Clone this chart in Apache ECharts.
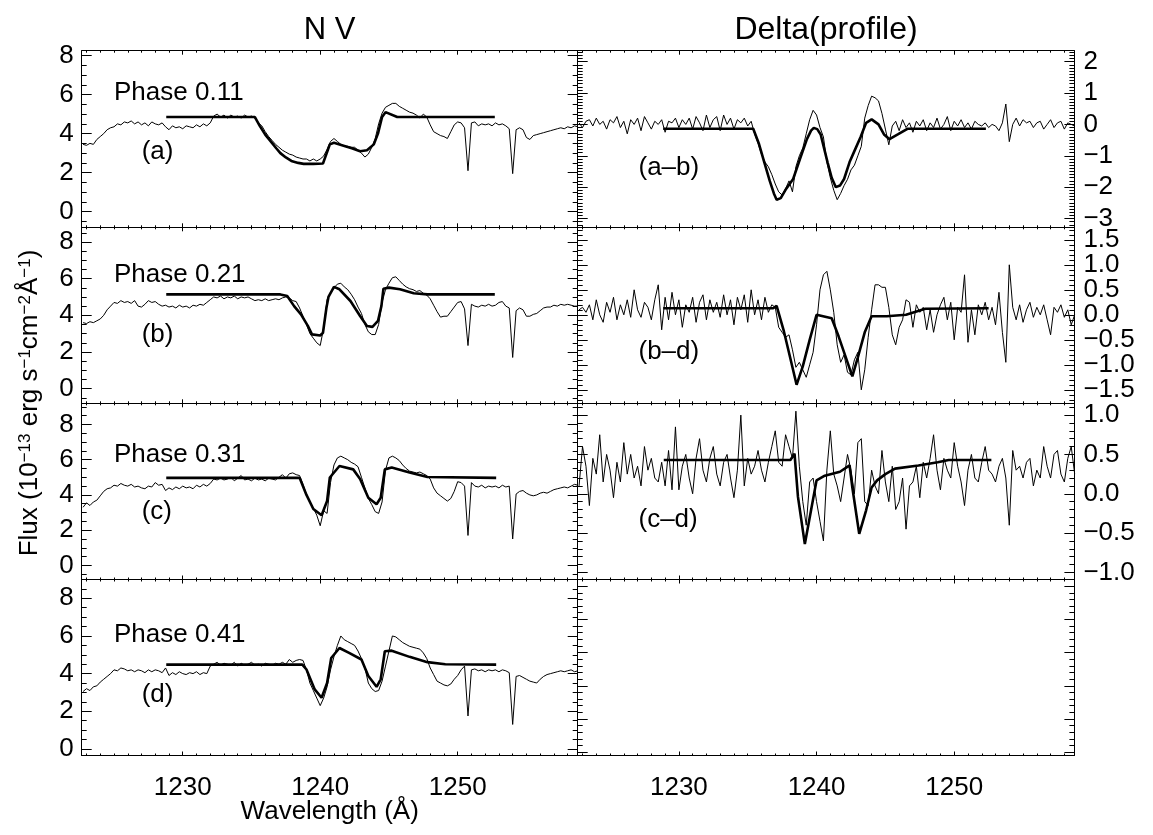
<!DOCTYPE html>
<html>
<head>
<meta charset="utf-8">
<title>N V profiles</title>
<script src="https://cdn.jsdelivr.net/npm/echarts@6/dist/echarts.min.js"></script>
<style>
  html, body { margin: 0; padding: 0; background: #fff; }
  #chart { width: 1153px; height: 835px; }
</style>
</head>
<body>
<div id="chart"></div>
<script>
// wavelength grid of the observed spectra (Angstrom)
const WAVE_START = 1222.75;
const WAVE_STEP = 0.25;

// observed N V spectra, one value per grid step (10^-13 erg/s/cm2/A)
const specA = [
  3.45,3.4,3.5,3.45,3.7,3.85,4.0,4.2,
  4.3,4.35,4.5,4.45,4.6,4.55,4.65,4.5,
  4.6,4.45,4.55,4.4,4.6,4.5,4.45,4.55,
  4.35,4.2,4.4,4.3,4.35,4.25,4.4,4.35,
  4.3,4.45,4.35,4.5,4.4,4.55,4.9,5.0,
  4.85,4.95,4.8,4.95,4.85,4.9,4.8,4.95,
  4.85,4.9,4.8,4.55,4.4,4.1,3.85,3.65,
  3.45,3.3,3.15,3.05,2.95,2.9,2.8,2.75,
  2.7,2.7,2.6,2.7,2.6,2.7,2.85,3.2,
  3.6,3.75,3.6,3.45,3.35,3.35,3.3,3.3,
  3.15,3.0,2.8,2.95,3.3,3.75,4.5,5.05,
  5.35,5.45,5.55,5.55,5.4,5.3,5.2,5.1,
  5.05,4.95,4.8,5.0,4.85,4.45,4.1,4.0,
  3.9,3.85,3.75,4.1,4.45,4.6,4.55,4.3,
  2.1,4.55,4.6,4.4,4.5,4.45,4.5,4.4,
  4.55,4.45,4.5,4.4,4.25,1.95,4.2,4.3,
  4.2,3.8,3.7,3.9,3.95,4.0,4.05,4.1,
  4.15,4.2,4.25,4.3,4.25,4.35,4.3,4.4,
  4.35
];
const specB = [
  3.6,3.55,3.65,3.6,3.7,3.8,4.0,4.3,
  4.5,4.7,4.65,4.8,4.7,4.75,4.65,4.8,
  4.5,4.45,4.6,4.8,4.7,4.75,4.6,4.5,
  4.55,4.45,4.5,4.4,4.55,4.45,4.5,4.4,
  4.55,4.5,4.6,4.55,4.7,4.85,5.0,4.95,
  5.05,4.9,5.0,4.95,5.05,4.9,5.0,4.95,
  5.0,4.9,4.8,4.85,4.8,4.9,4.8,4.85,
  4.9,4.85,4.95,5.0,4.95,4.8,4.75,4.4,
  3.95,3.5,3.0,2.75,2.5,2.35,3.3,4.85,
  5.25,5.5,5.7,5.75,5.55,5.4,5.15,4.85,
  4.45,4.1,3.5,3.1,2.95,2.95,3.5,4.7,
  5.4,5.75,6.05,6.1,5.9,5.7,5.55,5.45,
  5.4,5.3,5.35,5.2,5.1,4.9,4.55,4.2,
  3.9,3.95,3.95,4.2,4.45,4.7,4.75,4.35,
  2.35,4.6,4.5,4.45,4.55,4.5,4.6,4.5,
  4.55,4.7,4.75,4.5,4.4,1.7,4.25,4.4,
  4.3,3.95,3.95,4.05,4.1,4.25,4.4,4.45,
  4.45,4.55,4.5,4.6,4.55,4.6,4.55,4.5,
  4.5
];
const specC = [
  3.3,3.55,3.4,3.6,3.7,3.95,4.2,4.35,
  4.4,4.55,4.5,4.65,4.55,4.5,4.6,4.45,
  4.5,4.4,4.35,4.5,4.45,4.7,4.55,4.6,
  4.25,4.4,4.3,4.45,4.35,4.5,4.4,4.45,
  4.35,4.55,4.45,4.6,4.5,4.65,4.9,4.85,
  4.95,4.85,4.9,5.0,4.8,4.95,5.1,4.85,
  4.9,4.8,4.95,4.85,4.9,4.8,4.95,4.9,
  4.85,5.0,5.15,4.95,5.2,5.25,5.15,5.1,
  4.6,4.0,3.6,3.25,2.85,2.25,3.1,2.95,
  4.7,5.7,6.1,6.2,6.1,6.0,5.85,5.75,
  5.6,5.0,4.4,3.8,3.45,3.05,2.95,3.6,
  5.4,6.1,6.2,6.1,5.95,5.7,5.5,5.35,
  5.3,5.25,5.3,5.2,5.1,4.9,4.4,4.1,
  3.95,3.8,3.65,3.8,4.2,4.75,4.7,4.5,
  1.7,4.7,4.5,4.45,4.55,4.4,4.5,4.45,
  4.5,4.4,4.55,4.45,4.5,1.5,4.05,4.2,
  4.25,4.1,4.0,3.95,4.0,4.1,4.15,4.1,
  4.2,4.3,4.35,4.4,4.45,4.4,4.5,4.6,
  4.55
];
const specD = [
  3.05,3.2,3.1,3.3,3.35,3.55,3.7,3.85,
  4.0,4.2,4.15,4.3,4.25,4.15,4.2,4.1,
  4.2,4.15,4.05,4.2,4.1,4.2,4.15,4.05,
  4.3,3.9,4.05,3.95,4.1,4.0,3.95,4.05,
  4.0,4.1,3.95,4.05,4.0,4.4,4.5,4.6,
  4.45,4.55,4.5,4.45,4.6,4.4,4.55,4.45,
  4.5,4.6,4.45,4.5,4.4,4.55,4.5,4.45,
  4.55,4.5,4.6,4.5,4.75,4.6,4.7,4.75,
  4.7,4.2,3.5,3.1,2.7,2.3,2.7,3.3,
  4.2,4.9,5.5,6.0,5.8,5.7,5.6,5.5,
  5.2,4.8,4.3,3.5,3.2,3.05,3.1,3.6,
  4.4,5.2,6.0,5.95,5.8,5.65,5.55,5.45,
  5.4,5.35,5.3,5.1,4.8,4.3,3.95,3.6,
  3.5,3.4,3.35,3.45,3.7,3.9,4.2,4.4,
  1.75,4.2,4.25,4.15,4.2,4.1,4.2,4.15,
  4.2,4.1,4.2,4.15,4.05,1.3,3.85,3.9,
  3.8,3.7,3.6,3.55,3.5,3.7,3.85,3.95,
  4.0,4.05,4.1,4.15,4.1,4.15,4.2,4.1,
  4.15
];

// observed profile differences, same grid
const diffAB = [
  0.05,-0.1,0.1,0.15,-0.05,0.2,0.0,0.1,
  -0.15,0.15,0.05,0.25,-0.1,0.1,-0.3,0.15,
  0.0,0.2,-0.2,0.25,0.05,-0.15,0.1,0.0,
  0.15,-0.25,0.1,0.05,0.2,-0.1,0.15,0.0,
  0.2,-0.15,0.25,0.05,-0.2,0.3,-0.1,0.15,
  0.25,-0.2,0.3,0.0,0.2,-0.15,0.15,0.05,
  0.2,-0.05,0.1,-0.3,-0.6,-0.95,-1.2,-1.35,
  -1.6,-1.9,-2.15,-2.25,-2.05,-1.8,-2.15,-1.35,
  -1.0,-0.75,-0.3,0.15,0.45,0.3,-0.1,-0.4,
  -1.2,-1.7,-2.1,-2.4,-2.2,-1.95,-1.75,-1.45,
  -1.3,-1.0,-0.7,0.2,0.6,0.9,0.85,0.75,
  0.35,-0.15,-0.65,-0.05,0.1,-0.2,0.15,-0.1,
  0.05,-0.25,0.1,-0.05,0.15,-0.2,0.05,-0.1,
  0.2,-0.15,0.0,0.25,-0.2,0.1,-0.05,0.15,
  -0.1,0.05,-0.15,0.1,0.0,-0.05,0.05,-0.1,
  0.0,-0.05,-0.2,0.05,0.65,-0.55,0.0,0.2,
  -0.05,0.15,0.05,0.1,-0.1,0.05,0.1,-0.15,
  0.0,0.15,-0.1,0.05,0.1,-0.15,0.05,0.0,
  -0.05
];
const diffBD = [
  0.1,0.15,0.05,0.2,-0.1,0.3,0.0,-0.15,
  0.25,0.05,0.35,-0.1,0.2,0.0,0.3,-0.05,
  0.5,0.1,-0.05,0.25,0.15,-0.1,0.3,0.6,
  -0.3,0.35,-0.1,0.45,0.0,0.3,-0.25,0.2,
  0.05,0.35,-0.15,0.25,0.4,-0.1,0.3,0.05,
  0.25,-0.05,0.4,0.0,0.3,-0.2,0.35,0.1,
  0.4,-0.15,0.5,0.0,0.3,-0.1,0.35,0.05,
  0.2,0.15,-0.25,-0.35,-0.45,-0.4,-0.7,-1.05,
  -0.95,-1.1,-1.25,-1.0,-0.75,-0.2,0.5,0.8,
  0.87,0.5,0.05,-0.6,-0.95,-0.8,-1.15,-1.2,
  -0.9,-0.75,-1.5,-1.1,-0.45,0.1,0.6,0.6,
  0.55,0.55,0.15,-0.4,-0.6,-0.25,-0.1,0.3,
  0.25,-0.25,0.2,0.05,0.15,-0.3,0.1,-0.35,
  0.0,0.2,0.35,-0.1,0.25,-0.5,0.15,0.05,
  0.8,-0.55,0.1,-0.4,0.2,0.0,0.25,-0.1,
  0.15,-0.2,0.45,-0.35,-0.95,1.0,0.15,-0.1,
  0.2,-0.15,0.1,0.25,-0.05,0.15,0.0,0.2,
  -0.1,-0.4,0.15,0.05,0.2,-0.05,0.1,-0.2,
  0.0
];
const diffCD = [
  0.1,0.6,0.35,-0.15,0.45,0.25,0.75,0.15,
  0.5,0.3,-0.05,0.4,0.15,0.65,0.25,0.5,
  0.2,0.35,0.1,0.6,0.3,0.45,0.2,0.15,
  0.4,0.1,0.55,0.05,0.85,0.05,0.35,0.5,
  0.2,0.0,0.45,0.7,0.3,0.15,0.45,0.6,
  0.25,0.1,0.4,0.5,0.2,-0.05,0.3,1.0,
  0.1,0.45,0.25,0.35,0.55,0.3,0.15,0.4,
  0.6,0.8,0.4,0.35,0.75,0.6,0.45,1.05,
  0.35,-0.1,-0.4,0.15,0.2,-0.1,-0.35,-0.6,
  0.3,0.8,0.25,0.1,-0.1,0.2,0.5,0.3,
  0.0,0.65,0.7,-0.1,-0.15,0.3,0.1,0.0,
  0.55,0.15,-0.1,0.35,-0.2,-0.1,0.2,-0.45,
  0.1,0.15,0.35,-0.05,0.4,0.2,0.45,0.75,
  0.3,0.05,0.45,0.3,0.2,0.65,0.35,0.15,
  -0.15,0.3,0.5,0.2,0.15,0.4,0.6,0.3,
  0.25,0.15,0.35,0.45,0.2,-0.4,0.55,0.3,
  0.35,0.2,0.4,0.45,0.1,0.3,0.2,0.6,
  0.35,0.2,0.5,0.55,0.25,0.15,0.45,0.6,
  0.25
];

// model profiles: [wavelength, value]
const modelA = [[1228.8,4.85],[1235.25,4.85],[1235.6,4.4],[1236.0,3.95],[1236.4,3.6],[1236.8,3.25],[1237.1,3.0],[1237.5,2.78],[1237.9,2.6],[1238.4,2.5],[1238.8,2.45],[1239.5,2.45],[1240.2,2.47],[1240.5,3.05],[1240.7,3.45],[1241.0,3.53],[1241.7,3.38],[1242.3,3.25],[1242.9,3.1],[1243.4,3.15],[1243.9,3.45],[1244.2,4.0],[1244.5,4.85],[1244.75,5.1],[1245.6,4.85],[1252.7,4.85]];
const modelB = [[1228.8,5.14],[1237.1,5.14],[1237.6,5.05],[1238.1,4.5],[1238.6,4.05],[1239.1,3.42],[1239.4,2.96],[1240.0,2.9],[1240.2,3.05],[1240.45,4.4],[1240.6,5.0],[1241.0,5.55],[1241.1,5.6],[1241.4,5.42],[1242.2,4.78],[1242.9,3.96],[1243.4,3.42],[1243.8,3.37],[1244.2,3.69],[1244.45,4.5],[1244.6,5.45],[1245.0,5.51],[1245.8,5.42],[1246.8,5.2],[1247.8,5.14],[1252.7,5.14]];
const modelC = [[1228.8,4.97],[1238.5,4.97],[1239.0,4.0],[1239.5,3.2],[1240.1,2.85],[1240.5,3.66],[1240.7,4.99],[1241.4,5.64],[1242.4,5.45],[1242.9,4.9],[1243.5,3.84],[1244.1,3.47],[1244.4,3.84],[1244.7,5.45],[1245.2,5.55],[1246.5,5.27],[1247.8,5.02],[1252.8,4.97]];
const modelD = [[1228.8,4.48],[1238.7,4.48],[1239.0,4.22],[1239.6,3.16],[1240.1,2.72],[1240.5,3.5],[1240.8,4.83],[1241.4,5.36],[1242.1,5.1],[1243.0,4.75],[1243.5,3.87],[1244.1,3.3],[1244.4,3.7],[1244.7,5.19],[1245.2,5.22],[1246.5,4.89],[1247.8,4.61],[1249.1,4.5],[1252.8,4.48]];
const modelAB = [[1228.86,-0.14],[1235.4,-0.14],[1235.8,-0.6],[1236.2,-1.2],[1236.6,-1.8],[1236.9,-2.2],[1237.1,-2.4],[1237.4,-2.35],[1237.8,-2.05],[1238.3,-1.74],[1238.8,-1.1],[1239.3,-0.47],[1239.6,-0.2],[1239.8,-0.11],[1240.05,-0.15],[1240.3,-0.32],[1240.8,-1.21],[1241.1,-1.7],[1241.4,-2.0],[1241.7,-1.95],[1242.0,-1.74],[1242.4,-1.2],[1242.7,-0.9],[1243.2,-0.4],[1243.6,0.05],[1244.0,0.16],[1244.5,0.0],[1244.9,-0.32],[1245.3,-0.47],[1245.9,-0.32],[1246.6,-0.14],[1252.3,-0.14]];
const modelBD = [[1228.86,0.13],[1236.85,0.13],[1237.1,0.18],[1237.6,-0.3],[1238.06,-0.83],[1238.55,-1.4],[1239.0,-1.03],[1239.5,-0.5],[1240.0,0.0],[1241.1,-0.07],[1241.6,-0.43],[1242.1,-0.83],[1242.6,-1.23],[1243.0,-0.85],[1243.5,-0.35],[1244.0,-0.03],[1245.1,-0.03],[1246.5,0.0],[1247.9,0.12],[1252.5,0.13]];
const modelCD = [[1228.9,0.43],[1238.1,0.43],[1238.4,0.51],[1238.65,-0.04],[1239.15,-0.64],[1239.6,-0.21],[1240.0,0.17],[1240.6,0.23],[1241.7,0.28],[1242.4,0.36],[1242.6,0.08],[1243.1,-0.51],[1243.6,-0.21],[1244.0,0.08],[1244.4,0.17],[1245.0,0.25],[1245.7,0.32],[1247.4,0.36],[1248.8,0.4],[1249.6,0.43],[1252.7,0.43]];

// tick labels
const xTicks = [1230, 1240, 1250];
const fluxTicks = [0, 2, 4, 6, 8];
const abTicks = [-3, -2, -1, 0, 1, 2];
const bdTicks = [-1.5, -1.0, -0.5, 0.0, 0.5, 1.0, 1.5];
const cdTicks = [-1.0, -0.5, 0.0, 0.5, 1.0];
const emptyTicks = [0, 1, 2, 3, 4, 5];

// text
const phaseLabels = ['Phase 0.11', 'Phase 0.21', 'Phase 0.31', 'Phase 0.41'];
const spectrumLabels = ['(a)', '(b)', '(c)', '(d)'];
const diffLabels = ['(a\u2013b)', '(b\u2013d)', '(c\u2013d)'];

const FONT = "'Liberation Sans', Arial, Helvetica, sans-serif";
const X_MIN = 1222.65, X_MAX = 1258.73;
const COLS = [{ left: 81.7, width: 496 }, { left: 577.7, width: 496.7 }];
const ROWS = [
  { top: 50.7, height: 176.6 },
  { top: 227.3, height: 176 },
  { top: 403.3, height: 176.2 },
  { top: 579.5, height: 176 }
];

function steps(a, b, s) {
  const out = [];
  for (let k = Math.ceil(a / s - 1e-9); k * s <= b + 1e-9; k++) out.push(+(k * s).toFixed(4));
  return out;
}
const withMinus = s => s.replace('-', '\u2212');
const fmtInt = v => withMinus(String(Math.round(v)));
const fmt1 = v => withMinus(Number(v).toFixed(1));
const toPoints = arr => arr.map((v, i) => [+(WAVE_START + i * WAVE_STEP).toFixed(2), v]);

const xMinor = steps(1223, 1258, 1).filter(v => !xTicks.includes(v));

const PANELS = [
  { row: 0, col: 0, yMin: -0.8, yMax: 8.25, major: fluxTicks, minorStep: 0.5, fmt: fmtInt, thin: specA, model: modelA },
  { row: 0, col: 1, yMin: -3.28, yMax: 2.35, major: abTicks, minorStep: 0.1, fmt: fmtInt, thin: diffAB, model: modelAB },
  { row: 1, col: 0, yMin: -0.8, yMax: 8.8, major: fluxTicks, minorStep: 0.5, fmt: fmtInt, thin: specB, model: modelB },
  { row: 1, col: 1, yMin: -1.77, yMax: 1.75, major: bdTicks, minorStep: 0.1, fmt: fmt1, thin: diffBD, model: modelBD },
  { row: 2, col: 0, yMin: -0.8, yMax: 9.2, major: fluxTicks, minorStep: 0.5, fmt: fmtInt, thin: specC, model: modelC },
  { row: 2, col: 1, yMin: -1.09, yMax: 1.15, major: cdTicks, minorStep: 0.1, fmt: fmt1, thin: diffCD, model: modelCD },
  { row: 3, col: 0, yMin: -0.35, yMax: 9.0, major: fluxTicks, minorStep: 0.5, fmt: fmtInt, thin: specD, model: modelD },
  { row: 3, col: 1, yMin: -0.1, yMax: 5.2, major: emptyTicks, minorStep: 0.2, fmt: fmtInt, noLabels: true }
];

function xAxisDef(g, pos, ticks, len, line, labels) {
  return {
    type: 'value', gridIndex: g, position: pos, min: X_MIN, max: X_MAX,
    axisLine: { show: line, onZero: false, lineStyle: { color: '#000', width: 1 } },
    axisTick: { show: true, inside: true, length: len, customValues: ticks, lineStyle: { color: '#000', width: 1 } },
    axisLabel: {
      show: labels, customValues: xTicks, margin: 19, color: '#000', fontSize: 26, fontFamily: FONT,
      formatter: v => String(v), showMinLabel: true, showMaxLabel: true
    },
    splitLine: { show: false }
  };
}

// labelValues: which tick labels this axis prints (labels are spread over two
// axes on the same side so that ECharts never drops one as overlapping)
function yAxisDef(g, pos, p, ticks, len, line, labelValues) {
  const show = labelValues.length > 0;
  return {
    type: 'value', gridIndex: g, position: pos, min: p.yMin, max: p.yMax,
    axisLine: { show: line, onZero: false, lineStyle: { color: '#000', width: 1 } },
    axisTick: { show: true, inside: true, length: len, customValues: ticks, lineStyle: { color: '#000', width: 1 } },
    axisLabel: {
      show: show, customValues: show ? labelValues : p.major, margin: pos === 'left' ? 8 : 9,
      color: '#000', fontSize: 26, fontFamily: FONT, formatter: p.fmt,
      showMinLabel: true, showMaxLabel: true, hideOverlap: false
    },
    splitLine: { show: false }
  };
}

function text(str, x, y, size, align) {
  return {
    type: 'text', x: x, y: y, silent: true,
    style: {
      text: str, fill: '#000', fontSize: size, fontFamily: FONT,
      align: align, verticalAlign: 'middle', textAlign: align, textVerticalAlign: 'middle'
    }
  };
}

const option = {
  animation: false,
  backgroundColor: '#fff',
  grid: [], xAxis: [], yAxis: [], series: [], graphic: []
};

PANELS.forEach((p, g) => {
  const c = COLS[p.col], r = ROWS[p.row];
  option.grid.push({ left: c.left, top: r.top, width: c.width, height: r.height, containLabel: false, outerBoundsMode: 'none' });
  const bottomRow = p.row === 3;
  option.xAxis.push(
    xAxisDef(g, 'bottom', xTicks, 4, true, bottomRow),
    xAxisDef(g, 'bottom', xMinor, 2, false, false),
    xAxisDef(g, 'top', xTicks, 4, true, false),
    xAxisDef(g, 'top', xMinor, 2, false, false)
  );
  const labelSide = p.col === 0 ? 'left' : 'right';
  const otherSide = p.col === 0 ? 'right' : 'left';
  const minors = steps(p.yMin, p.yMax, p.minorStep).filter(v => !p.major.some(m => Math.abs(m - v) < 1e-6));
  const evenLabels = p.noLabels ? [] : p.major.filter((_, i) => i % 2 === 0);
  const oddLabels = p.noLabels ? [] : p.major.filter((_, i) => i % 2 === 1);
  option.yAxis.push(
    yAxisDef(g, labelSide, p, p.major, 10, true, evenLabels),
    yAxisDef(g, labelSide, p, minors, 5, false, oddLabels),
    yAxisDef(g, otherSide, p, p.major, 10, true, []),
    yAxisDef(g, otherSide, p, minors, 5, false, [])
  );
  if (p.thin) {
    option.series.push({
      type: 'line', xAxisIndex: 4 * g, yAxisIndex: 4 * g, data: toPoints(p.thin),
      symbol: 'none', showSymbol: false, clip: true, silent: true, z: 2,
      lineStyle: { color: '#000', width: 1 }
    });
    option.series.push({
      type: 'line', xAxisIndex: 4 * g, yAxisIndex: 4 * g, data: p.model,
      symbol: 'none', showSymbol: false, clip: true, silent: true, z: 3,
      lineStyle: { color: '#000', width: 2.6 }
    });
  }
});

// panel annotations
const phaseY = [93, 275, 455, 635];
const letterY = [151.7, 335, 511.7, 695];
const diffY = [168.3, 351.7, 520];
phaseLabels.forEach((t, i) => option.graphic.push(text(t, 114, phaseY[i], 26, 'left')));
spectrumLabels.forEach((t, i) => option.graphic.push(text(t, 141.7, letterY[i], 26, 'left')));
diffLabels.forEach((t, i) => option.graphic.push(text(t, 638.5, diffY[i], 26, 'left')));

option.graphic.push(text('N V', 329.7, 30, 31, 'center'));
option.graphic.push(text('Delta(profile)', 826, 30, 32, 'center'));
option.graphic.push(text('Wavelength (\u00c5)', 329.7, 812, 26, 'center'));
option.graphic.push({
  type: 'text', x: 30, y: 403, rotation: Math.PI / 2, silent: true,
  style: {
    text: '{n|Flux (10}{s|\u221213}{n| erg s}{s|\u22121}{n|cm}{s|\u22122}{n|\u00c5}{s|\u22121}{n|)}',
    align: 'center', verticalAlign: 'middle', textAlign: 'center', textVerticalAlign: 'middle',
    rich: {
      n: { fontSize: 26, fontFamily: FONT, fill: '#000', color: '#000' },
      s: { fontSize: 17, fontFamily: FONT, fill: '#000', color: '#000', verticalAlign: 'top' }
    }
  }
});

const chart = echarts.init(document.getElementById('chart'), null, { renderer: 'canvas' });
chart.setOption(option);
</script>
</body>
</html>
